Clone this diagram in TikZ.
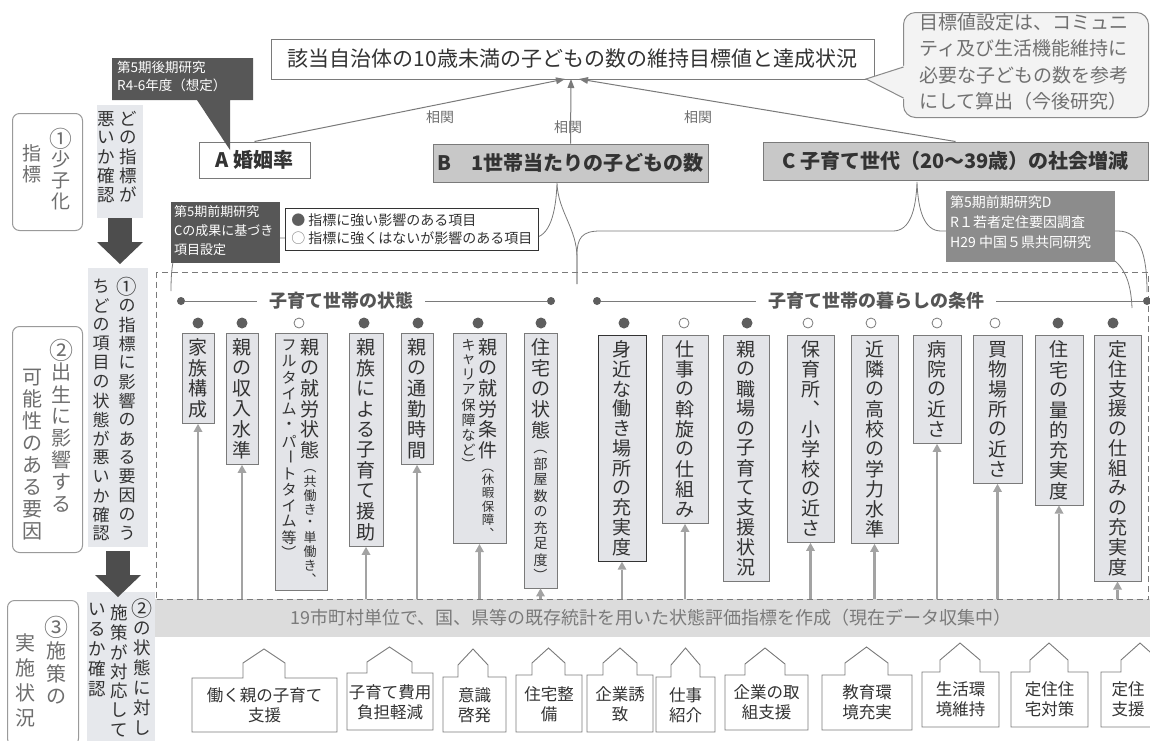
\documentclass[tikz,border=0pt]{standalone}
\usepackage{fontspec}
\setmainfont{Noto Sans CJK JP}
\usepackage{graphicx}
\usetikzlibrary{arrows.meta}
\definecolor{tx}{HTML}{333333}
\definecolor{gtx}{HTML}{6E6E6E}
\definecolor{bd}{HTML}{7A7A7A}
\definecolor{boxfill}{HTML}{E3E4E8}
\definecolor{panelfill}{HTML}{E6E8EC}
\definecolor{darkc}{HTML}{575757}
\definecolor{midc}{HTML}{8C8C8C}
\definecolor{bandc}{HTML}{DCDCDC}
\definecolor{bandtx}{HTML}{7A7A7A}
\definecolor{arrc}{HTML}{A3A3A3}
\definecolor{dotc}{HTML}{5E5E5E}
\definecolor{hdrc}{HTML}{555555}
\definecolor{relc}{HTML}{7A7A7A}
\definecolor{bfill}{HTML}{C8C8C8}
\definecolor{bubf}{HTML}{F3F3F3}
\definecolor{bubbd}{HTML}{8A8A8A}
\definecolor{bubtx}{HTML}{707070}
\definecolor{darrc}{HTML}{4D4D4D}
\definecolor{panelbd}{HTML}{9A9A9A}

\ExplSyntaxOn
\cs_new:Npn \myvt_char:n #1
  {
    \str_case:nnF {#1}
      {
        {（} { \rotatebox[origin=c]{-90}{（} }
        {）} { \rotatebox[origin=c]{-90}{）} }
        {ー} { \rotatebox[origin=c]{-90}{ー} }
        {①} { \scalebox{1.2}{①} }
        {②} { \scalebox{1.2}{②} }
        {③} { \scalebox{1.2}{③} }
        {、} { ︑ }
      }
      { #1 }
  }
\NewDocumentCommand \VC { m m }
  {
    \tl_map_inline:nn {#2}
      { \hbox~to~0pt{ \hss \vbox~to~#1{ \vss \hbox{ \myvt_char:n {##1} } \vss } \hss } }
  }
\NewDocumentCommand \VCol { m m }
  { \hbox~to~#1{ \hss \vtop{ \vskip~0pt \offinterlineskip #2 } \hss } }
\ExplSyntaxOff

\newcommand\housepath[8]{\draw[house] (#1,#4) -- (#1,#3) -- (#5,#3) -- (#5,#7) -- ({(#5+#6)/2},#8) -- (#6,#7) -- (#6,#3) -- (#2,#3) -- (#2,#4) -- cycle;}

\tikzset{
  item/.style={draw=bd, fill=boxfill, line width=0.9pt, inner xsep=1pt, inner ysep=4pt, anchor=north, text=tx, font=\fontsize{19}{19}\selectfont},
  dotf/.style={circle, fill=dotc, draw=none, minimum size=11pt, inner sep=0pt},
  doth/.style={circle, fill=white, draw=bd, line width=0.8pt, minimum size=10pt, inner sep=0pt},
  hdot/.style={circle, fill=dotc, minimum size=8pt, inner sep=0pt},
  hdr/.style={text=hdrc, font=\fontsize{18}{18}\selectfont\bfseries, inner xsep=12pt, inner ysep=2pt},
  hline/.style={draw=bd, line width=0.8pt},
  uparr/.style={draw=arrc, line width=2.6pt, -{Triangle[length=8pt,width=9pt,line width=0pt]}},
  rel/.style={draw=relc, line width=1pt, -{Triangle[length=9pt,width=7pt,line width=0pt]}},
  panel/.style={draw=panelbd, line width=1pt, rounded corners=7pt, fill=white},
  lpanel/.style={fill=panelfill, draw=none},
  ptext/.style={anchor=north, inner sep=0pt},
  house/.style={draw=bd, line width=0.9pt, fill=white},
  htext/.style={text=tx, align=center, font=\fontsize{16.5}{20}\selectfont},
  darkbox/.style={text=white, align=left, font=\fontsize{13}{19}\selectfont},
  brace/.style={draw=bd, line width=0.8pt},
  blockarr/.style={draw=darrc, line width=24pt, -{Triangle[length=22pt,width=46pt,line width=0pt]}},
  rlab/.style={text=gtx, font=\fontsize{14}{14}\selectfont},
  bigbox/.style={draw=bd, line width=1pt, font=\fontsize{20}{20}\selectfont\bfseries, text=tx},
}

\begin{document}
\begin{tikzpicture}[x=1pt,y=-1pt, every node/.style={inner sep=0pt}]
\useasboundingbox (0,0) rectangle (1150,740);

% ---------- band and dashed frame ----------
\node[fill=bandc, anchor=north west, minimum width=995pt, minimum height=38pt] (band) at (155,599) {};
\node[text=bandtx, font=\fontsize{18}{18}\selectfont] (bandt) at (651,618) {19市町村単位で、国、県等の既存統計を用いた状態評価指標を作成（現在データ収集中）};
\node[draw=bd, line width=1pt, dash pattern=on 6pt off 4pt, anchor=north west, minimum width=992pt, minimum height=327pt] (frame) at (156,272) {};

% ---------- braces ----------
\coordinate (bt) at (557,183);
\coordinate (ct) at (917,182);
\draw[brace] (171,291) .. controls (171,255) and (176,238) .. (200,238) -- (532,238) .. controls (550,238) and (556,212) .. (bt) .. controls (558,212) and (577,228) .. (577,258) -- (577,284);
\draw[brace] (577,284) -- (577,255) .. controls (577,238) and (582,231) .. (600,231) -- (893,231) .. controls (910,231) and (916,210) .. (ct) .. controls (918,210) and (924,231) .. (941,231) -- (1118,231) .. controls (1140,231) and (1147,255) .. (1147,292);
\draw[brace] (1111,258) .. controls (1126,268) and (1131,285) .. (1132,308);

% ---------- callouts and legend ----------
\fill[darkc] (171,202) rectangle (280,263);
\node[darkbox, anchor=north west] (cC) at (174,205) {第5期前期研究\\Cの成果に基づき\\項目設定};
\node[draw=tx, line width=0.8pt, fill=white, anchor=north west, minimum width=253pt, minimum height=42pt, text=tx, align=left, font=\fontsize{14}{18}\selectfont] (leg) at (285,208) {{\color{dotc}●}\hspace{3pt}指標に強い影響のある項目\\{\color{bd}○}\hspace{3pt}指標に強くはないが影響のある項目};
\fill[midc] (946,191) rectangle (1115,262);
\node[darkbox, anchor=north west, font=\fontsize{14}{20}\selectfont] (cD) at (950,195) {第5期前期研究D\\R１若者定住要因調査\\H29 中国５県共同研究};

% ---------- group headers ----------
\node[hdot] (h1a) at (181,301) {};
\node[hdr] (h1) at (341,301) {子育て世帯の状態};
\node[hdot] (h1b) at (551,301) {};
\draw[hline] (h1a) -- (h1) (h1) -- (h1b);
\node[hdot] (h2a) at (597,301) {};
\node[hdr] (h2) at (876,301) {子育て世帯の暮らしの条件};
\node[hdot] (h2b) at (1147,301) {};
\draw[hline] (h2a) -- (h2) (h2) -- (h2b);

% ---------- items: group 1 ----------
\node[item, minimum width=32pt] (i1) at (198,333) {\VCol{19pt}{\VC{20.5pt}{家族構成}}};
\node[item, minimum width=32pt] (i2) at (242,333) {\VCol{19pt}{\VC{20.5pt}{親の収入水準}}};
\node[item, minimum width=52pt] (i3) at (301,333) {\VCol{18pt}{\fontsize{15}{15}\selectfont\VC{16pt}{フルタイム・パートタイム等）}}\VCol{24pt}{\VC{20.5pt}{親の就労状態}\fontsize{13}{13}\selectfont\VC{14pt}{（共働き・単働き、}}};
\node[item, minimum width=34pt] (i4) at (366,333) {\VCol{19pt}{\VC{20.5pt}{親族による子育て援助}}};
\node[item, minimum width=32pt] (i5) at (417,333) {\VCol{19pt}{\VC{20.5pt}{親の通勤時間}}};
\node[item, minimum width=53pt] (i6) at (479.5,333) {\VCol{17pt}{\fontsize{14}{14}\selectfont\VC{15pt}{キャリア保障など）}}\VCol{22pt}{\VC{20.5pt}{親の就労条件}\fontsize{12.5}{12.5}\selectfont\VC{13.2pt}{（休暇保障、}}};
\node[item, minimum width=33pt] (i7) at (540.5,333) {\VCol{22pt}{\VC{20.5pt}{住宅の状態}\fontsize{14}{14}\selectfont\VC{16pt}{（部屋数の充足度）}}};

% ---------- items: group 2 ----------
\node[item, draw=tx, minimum width=48pt] (i8) at (622,335) {\VCol{20pt}{\VC{19.8pt}{身近な働き場所の充実度}}};
\node[item, minimum width=46pt] (i9) at (685,335) {\VCol{20pt}{\VC{20pt}{仕事の斡旋の仕組み}}};
\node[item, minimum width=46pt] (i10) at (746,335) {\VCol{20pt}{\VC{19.8pt}{親の職場の子育て支援状況}}};
\node[item, minimum width=47pt] (i11) at (810.5,335) {\VCol{20pt}{\VC{19.9pt}{保育所、小学校の近さ}}};
\node[item, minimum width=47pt] (i12) at (874.5,335) {\VCol{20pt}{\VC{20pt}{近隣の高校の学力水準}}};
\node[item, minimum width=48pt] (i13) at (937,335) {\VCol{20pt}{\VC{20pt}{病院の近さ}}};
\node[item, minimum width=49pt] (i14) at (997.5,335) {\VCol{20pt}{\VC{20pt}{買物場所の近さ}}};
\node[item, minimum width=48pt] (i15) at (1059,335) {\VCol{20pt}{\VC{20.2pt}{住宅の量的充実度}}};
\node[item, minimum width=47pt] (i16) at (1117.5,335) {\VCol{20pt}{\VC{19.8pt}{定住支援の仕組みの充実度}}};

% ---------- dots ----------
\node[dotf] (d1) at (198,323) {};
\node[dotf] (d2) at (242,323) {};
\node[doth] (d3) at (299,323) {};
\node[dotf] (d4) at (364,323) {};
\node[dotf] (d5) at (418,323) {};
\node[dotf] (d6) at (478,323) {};
\node[dotf] (d7) at (541,323) {};
\node[dotf] (d8) at (624,323) {};
\node[doth] (d9) at (684,323) {};
\node[dotf] (d10) at (747,323) {};
\node[doth] (d11) at (808,323) {};
\node[doth] (d12) at (871,323) {};
\node[doth] (d13) at (937,323) {};
\node[doth] (d14) at (995,323) {};
\node[dotf] (d15) at (1058,323) {};
\node[dotf] (d16) at (1113,323) {};

% ---------- arrows from band ----------
\foreach \n in {i1,i2,i4,i5,i6,i7,i8,i9,i11,i12,i13,i14,i15,i16}
  \draw[uparr] (\n.south |- band.north) -- (\n.south);

% ---------- top: title, A B C ----------
\node[draw=bd, line width=1pt, fill=white, minimum width=603pt, minimum height=40pt, text=tx, font=\fontsize{21}{21}\selectfont] (title) at (572.5,59) {該当自治体の10歳未満の子どもの数の維持目標値と達成状況};
\node[bigbox, fill=white, minimum width=111pt, minimum height=36pt] (A) at (254.5,160) {A 婚姻率};
\node[bigbox, fill=bfill, minimum width=275pt, minimum height=38pt] (B) at (570.5,163) {B　1世帯当たりの子どもの数};
\node[bigbox, fill=bfill, minimum width=385pt, minimum height=38pt] (C) at (955.5,161) {C 子育て世代（20〜39歳）の社会増減};
\coordinate (tA) at (565,79);
\coordinate (tB) at (571,79);
\coordinate (tC) at (579,79);
\draw[rel] (A.north) -- (tA);
\draw[rel] (B.north) -- (tB);
\draw[rel] (C.north) -- (tC);
\node[rlab] (r1) at (440,117) {相関};
\node[rlab] (r2) at (568,127) {相関};
\node[rlab] (r3) at (698,117) {相関};

% callout above A
\fill[darkc] (112,58) -- (253,58) -- (253,100) -- (230,100) -- (230,150) -- (197,100) -- (112,100) -- cycle;
\node[darkbox, anchor=north west, font=\fontsize{13.5}{18}\selectfont] (cA) at (117,61) {第5期後期研究\\R4-6年度（想定）};

% speech bubble
\node[draw=bubbd, line width=1pt, fill=bubf, rounded corners=12pt, anchor=north west, minimum width=245pt, minimum height=105pt] (bub) at (903,12) {};
\fill[bubf] (906,65) -- (866,79) -- (906,100) -- cycle;
\draw[bubbd, line width=1pt] (903.5,67) -- (866,79) -- (903.5,98);
\node[anchor=north west, align=left, text=bubtx, font=\fontsize{19}{26.5}\selectfont] (bubt) at (919,13) {目標値設定は、コミュニ\\ティ及び生活機能維持に\\必要な子どもの数を参考\\にして算出（今後研究）};

% ---------- left column ----------
\node[panel, anchor=north west, minimum width=70pt, minimum height=117pt] (P1) at (12,113) {};
\node[ptext, text=gtx, font=\fontsize{19}{19}\selectfont] (P1r) at (61,128) {\VCol{20pt}{\VC{21pt}{①少子化}}};
\node[ptext, text=gtx, font=\fontsize{19}{19}\selectfont] (P1l) at (32,143) {\VCol{20pt}{\VC{21pt}{指標}}};
\node[lpanel, anchor=north west, minimum width=46pt, minimum height=113pt] (Q1) at (97,105) {};
\node[ptext, text=tx, font=\fontsize{17.5}{17.5}\selectfont] (Q1r) at (128,109) {\VCol{19pt}{\VC{19pt}{どの指標が}}};
\node[ptext, text=tx, font=\fontsize{17.5}{17.5}\selectfont] (Q1l) at (106,109) {\VCol{19pt}{\VC{19pt}{悪いか確認}}};

\node[panel, anchor=north west, minimum width=70pt, minimum height=226pt] (P2) at (12,326) {};
\node[ptext, text=gtx, font=\fontsize{20}{20}\selectfont] (P2r) at (61,339) {\VCol{21pt}{\VC{22pt}{②出生に影響する}}};
\node[ptext, text=gtx, font=\fontsize{20}{20}\selectfont] (P2l) at (32,366) {\VCol{21pt}{\VC{22pt}{可能性のある要因}}};
\node[lpanel, anchor=north west, minimum width=60pt, minimum height=279pt] (Q2) at (88,268) {};
\node[ptext, text=tx, font=\fontsize{17}{17}\selectfont] (Q2r) at (127,277) {\VCol{19pt}{\VC{19pt}{①の指標に影響のある要因のう}}};
\node[ptext, text=tx, font=\fontsize{17}{17}\selectfont] (Q2l) at (101,277) {\VCol{19pt}{\VC{19pt}{ちどの項目の状態が悪いか確認}}};

\node[panel, anchor=north west, minimum width=71pt, minimum height=145pt] (P3) at (7,600) {};
\node[ptext, text=gtx, font=\fontsize{20}{20}\selectfont] (P3r) at (56,616) {\VCol{21pt}{\VC{23pt}{③施策の}}};
\node[ptext, text=gtx, font=\fontsize{20}{20}\selectfont] (P3l) at (26,630) {\VCol{21pt}{\VC{25pt}{実施状況}}};
\node[lpanel, anchor=north west, minimum width=68pt, minimum height=153pt] (Q3) at (87,592) {};
\node[ptext, text=tx, font=\fontsize{17.5}{17.5}\selectfont] (Q3r) at (142,598) {\VCol{19pt}{\VC{20pt}{②の状態に対し}}};
\node[ptext, text=tx, font=\fontsize{17.5}{17.5}\selectfont] (Q3m) at (119,603) {\VCol{19pt}{\VC{19.5pt}{施策が対応して}}};
\node[ptext, text=tx, font=\fontsize{17.5}{17.5}\selectfont] (Q3l) at (97,599) {\VCol{19pt}{\VC{20pt}{いるか確認}}};

\coordinate (a1s) at (120,218);
\coordinate (a1e) at (120,264);
\draw[blockarr] (a1s) -- (a1e);
\coordinate (a2s) at (118,551);
\coordinate (a2e) at (118,597);
\draw[blockarr] (a2s) -- (a2e);

% ---------- bottom measures ----------
\housepath{192}{337}{678}{732}{243}{285}{663}{649}
\node[htext] (m1) at (264.5,705) {働く親の子育て\\支援};
\housepath{347}{433}{673}{730}{367}{412}{662}{647}
\node[htext] (m2) at (390,702) {子育て費用\\負担軽減};
\housepath{443}{506}{677}{732}{458}{488}{665}{649}
\node[htext] (m3) at (474.5,705) {意識\\啓発};
\housepath{516}{582}{675}{732}{532}{565}{663}{648}
\node[htext] (m4) at (549,704) {住宅整\\備};
\housepath{587}{653}{675}{732}{603}{637}{663}{648}
\node[htext] (m5) at (620,704) {企業誘\\致};
\housepath{656}{715}{677}{732}{671}{700}{665}{648}
\node[htext] (m6) at (685.5,705) {仕事\\紹介};
\housepath{725}{808}{675}{730}{745}{785}{664}{648}
\node[htext] (m7) at (766.5,702) {企業の取\\組支援};
\housepath{822}{912}{675}{730}{845}{888}{663}{647}
\node[htext] (m8) at (867,702) {教育環\\境充実};
\housepath{922}{999}{672}{727}{940}{980}{660}{643}
\node[htext] (m9) at (960.5,699) {生活環\\境維持};
\housepath{1011}{1088}{672}{727}{1030}{1068}{660}{643}
\node[htext] (m10) at (1049.5,699) {定住住\\宅対策};
\housepath{1101}{1165}{672}{727}{1121}{1159}{660}{643}
\node[htext] (m11) at (1128,699) {定住\\支援};
\end{tikzpicture}
\end{document}
